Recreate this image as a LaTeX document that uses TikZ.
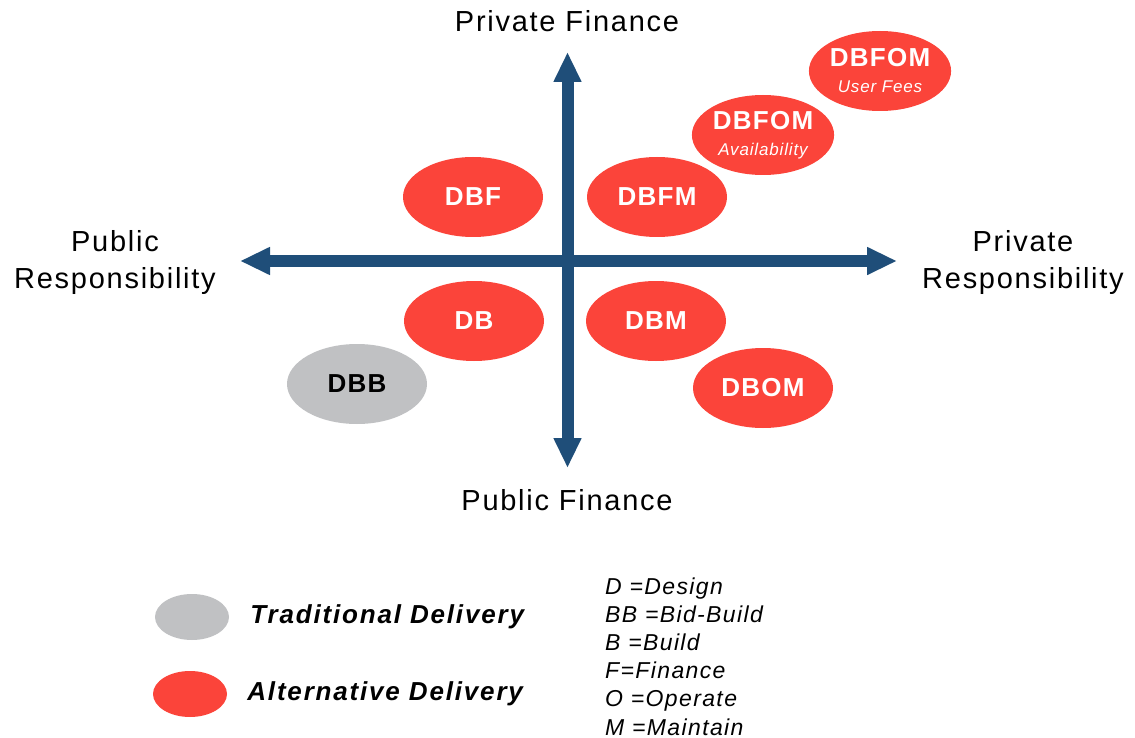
\documentclass[tikz,border=0pt]{standalone}
\usepackage{fontspec}
\setmainfont{Liberation Sans}
\newfontfamily\axisfont[LetterSpace=6]{Liberation Sans}
\newfontfamily\ovalfont[LetterSpace=5]{Liberation Sans}
\newfontfamily\legendfont[LetterSpace=7]{Liberation Sans}
\newfontfamily\keyfont[LetterSpace=6]{Liberation Sans}
\newcommand{\ovalsub}{\ovalfont\mdseries\itshape\fontsize{17}{18}\selectfont}
\usepackage{tikz}
\usetikzlibrary{arrows.meta, shapes.geometric, positioning}

\definecolor{axisblue}{HTML}{1F4E79}
\definecolor{altred}{HTML}{FB443A}
\definecolor{tradgray}{HTML}{C0C1C3}

\begin{document}
\begin{tikzpicture}[x=1pt, y=-1pt,
    axis/.style={line width=12pt, axisblue, {Triangle[length=30pt,width=26pt]}-{Triangle[length=30pt,width=26pt]}},
    axislabel/.style={inner sep=0pt, align=center, font=\axisfont\fontsize{29}{37}\selectfont},
    oval/.style={ellipse, fill=altred, minimum width=140pt, minimum height=80pt, inner sep=0pt,
        text=white, align=center, font=\ovalfont\bfseries\fontsize{26}{28}\selectfont},
    tradoval/.style={oval, fill=tradgray, text=black},
    legoval/.style={ellipse, minimum width=74pt, minimum height=46pt, inner sep=0pt},
    legtext/.style={inner sep=0pt, font=\legendfont\bfseries\itshape\fontsize{26}{28}\selectfont},
    keytext/.style={inner sep=0pt, anchor=base west, font=\keyfont\itshape\fontsize{23}{25}\selectfont}]
    \useasboundingbox (0,0) rectangle (1135,738);

    % Axes
    \coordinate (axW) at (240,261);
    \coordinate (axE) at (897,261);
    \coordinate (axN) at (567.5,52);
    \coordinate (axS) at (567.5,468);
    \draw[axis] (axW) -- (axE);
    \draw[axis] (axS) -- (axN);

    % Label axes
    \node[axislabel] (privfin) at (567,21) {Private Finance};
    \node[axislabel] (pubfin) at (567,500) {Public Finance};
    \node[axislabel] (pubresp) at (115,263) {Public\\Responsibility};
    \node[axislabel] (privresp) at (1023,263) {Private\\Responsibility};

    % Ovals
    \node[oval] (dbf) at (473,197) {DBF};
    \node[oval] (dbfm) at (657,197) {DBFM};
    \node[oval] (db) at (474,321) {DB};
    \node[oval] (dbm) at (656,321) {DBM};
    \node[tradoval] (dbb) at (357,384) {DBB};
    \node[oval] (dbom) at (763,388) {DBOM};
    \node[oval] (dbfomA) at (763,135) {DBFOM\\[-2pt]{\ovalsub Availability}};
    \node[oval] (dbfomU) at (880,71) {DBFOM\\[-2pt]{\ovalsub User Fees}};

    % Legende
    \node[legoval, fill=tradgray] (trad) at (192,617) {};
    \node[legoval, fill=altred] (alt) at (190,694) {};
    \node[legtext, right=21pt of trad] (tradtxt) {Traditional Delivery};
    \node[legtext, right=20pt of alt] (alttxt) {Alternative Delivery};

    % Abreviations
    \foreach \k [count=\i from 0] in {D =Design, BB =Bid-Build, B =Build, F=Finance, O =Operate, M =Maintain} {
        \node[keytext] (key\i) at (605, 594+28.2*\i) {\k};
    }
\end{tikzpicture}
\end{document}
